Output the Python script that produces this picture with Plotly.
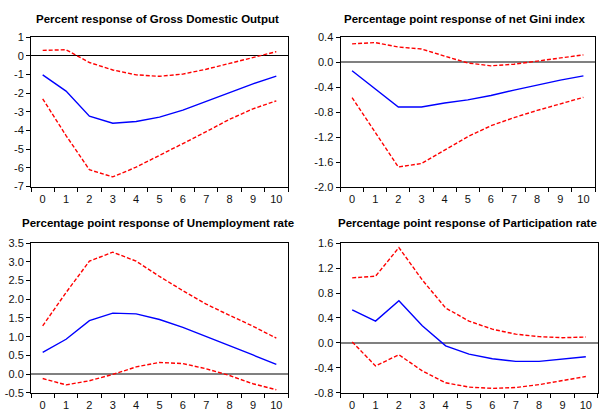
import plotly.graph_objects as go

horizons = [str(i) for i in range(11)]

gdo_resp = [-1.02, -1.89, -3.23, -3.61, -3.52, -3.28, -2.91, -2.44, -1.97, -1.50, -1.09]
gdo_upper = [0.29, 0.32, -0.36, -0.76, -1.02, -1.10, -0.98, -0.72, -0.41, -0.10, 0.22]
gdo_lower = [-2.30, -4.27, -6.10, -6.48, -5.96, -5.35, -4.70, -4.06, -3.40, -2.84, -2.41]

gini_resp = [-0.134, -0.43, -0.715, -0.715, -0.65, -0.60, -0.53, -0.445, -0.36, -0.285, -0.217]
gini_upper = [0.296, 0.317, 0.245, 0.214, 0.10, -0.01, -0.056, -0.03, 0.02, 0.074, 0.12]
gini_lower = [-0.565, -1.12, -1.675, -1.62, -1.40, -1.19, -1.015, -0.885, -0.77, -0.67, -0.56]

unemp_resp = [0.58, 0.93, 1.43, 1.63, 1.61, 1.46, 1.25, 1.01, 0.76, 0.51, 0.26]
unemp_upper = [1.29, 2.18, 3.02, 3.26, 3.02, 2.61, 2.23, 1.87, 1.57, 1.28, 0.96]
unemp_lower = [-0.12, -0.29, -0.18, -0.01, 0.19, 0.31, 0.28, 0.14, -0.04, -0.26, -0.42]

part_resp = [0.53, 0.35, 0.675, 0.275, -0.047, -0.18, -0.255, -0.296, -0.296, -0.265, -0.223]
part_upper = [1.044, 1.07, 1.53, 1.01, 0.56, 0.35, 0.22, 0.14, 0.10, 0.083, 0.094]
part_lower = [0.016, -0.37, -0.19, -0.45, -0.64, -0.71, -0.73, -0.717, -0.67, -0.61, -0.54]

titles = [
    "Percent response of Gross Domestic Output",
    "Percentage point response of net Gini index",
    "Percentage point response of Unemployment rate",
    "Percentage point response of Participation rate",
]

gdo_ticks = [1, 0, -1, -2, -3, -4, -5, -6, -7]
gdo_ticktext = ["1", "0", "-1", "-2", "-3", "-4", "-5", "-6", "-7"]
gini_ticks = [0.4, 0.0, -0.4, -0.8, -1.2, -1.6, -2.0]
gini_ticktext = ["0.4", "0.0", "-0.4", "-0.8", "-1.2", "-1.6", "-2.0"]
unemp_ticks = [3.5, 3.0, 2.5, 2.0, 1.5, 1.0, 0.5, 0.0, -0.5]
unemp_ticktext = ["3.5", "3.0", "2.5", "2.0", "1.5", "1.0", "0.5", "0.0", "-0.5"]
part_ticks = [1.6, 1.2, 0.8, 0.4, 0.0, -0.4, -0.8]
part_ticktext = ["1.6", "1.2", "0.8", "0.4", "0.0", "-0.4", "-0.8"]

W, H = 600, 413

panels = [
    dict(resp=gdo_resp, up=gdo_upper, lo=gdo_lower, ticks=gdo_ticks, text=gdo_ticktext,
         rng=[-7, 1], x=(31, 288), y=(32, 186), zc="black", zw=1, title_xy=(157, 13)),
    dict(resp=gini_resp, up=gini_upper, lo=gini_lower, ticks=gini_ticks, text=gini_ticktext,
         rng=[-2.0, 0.4], x=(340.5, 595), y=(32.3, 186.7), zc="#808080", zw=1.5, title_xy=(465, 13)),
    dict(resp=unemp_resp, up=unemp_upper, lo=unemp_lower, ticks=unemp_ticks, text=unemp_ticktext,
         rng=[-0.5, 3.5], x=(31, 288), y=(244.3, 398.3), zc="#808080", zw=1.5, title_xy=(158, 223)),
    dict(resp=part_resp, up=part_upper, lo=part_lower, ticks=part_ticks, text=part_ticktext,
         rng=[-0.8, 1.6], x=(340.5, 597.5), y=(244.3, 398.3), zc="#808080", zw=1.5, title_xy=(467.5, 223)),
]

fig = go.Figure()
layout = dict(
    width=W, height=H, margin=dict(l=0, r=0, t=0, b=0),
    paper_bgcolor="white", plot_bgcolor="white", showlegend=False,
    font=dict(family="Liberation Sans, Arial, sans-serif", size=11, color="black"),
    annotations=[],
)

for i, p in enumerate(panels):
    n = i + 1
    xa = "x" if n == 1 else f"x{n}"
    ya = "y" if n == 1 else f"y{n}"
    for vals, color, dash in [(p["up"], "#FF0000", "4px,2px"),
                              (p["lo"], "#FF0000", "4px,2px"),
                              (p["resp"], "#0000FF", "solid")]:
        fig.add_trace(go.Scatter(x=horizons, y=vals, mode="lines", xaxis=xa, yaxis=ya,
                                 line=dict(color=color, width=1.4, dash=dash),
                                 hoverinfo="skip"))
    x0, x1 = p["x"]
    yt, yb = p["y"]
    layout["xaxis" if n == 1 else f"xaxis{n}"] = dict(
        domain=[x0 / W, x1 / W], anchor=ya, type="category",
        range=[-0.5, 10.5], tickson="boundaries", ticks="outside", ticklen=4,
        tickcolor="black", showline=True, linecolor="black", linewidth=1, mirror=True,
        showgrid=False, zeroline=False, tickfont=dict(size=11, color="#111"), fixedrange=True,
        ticklabelstandoff=2,
    )
    layout["yaxis" if n == 1 else f"yaxis{n}"] = dict(
        domain=[1 - yb / H, 1 - yt / H], anchor=xa, range=p["rng"],
        tickmode="array", tickvals=p["ticks"], ticktext=p["text"],
        ticks="outside", ticklen=4, tickcolor="black",
        showline=True, linecolor="black", linewidth=1, mirror=True,
        showgrid=False, zeroline=True, zerolinecolor=p["zc"], zerolinewidth=p["zw"],
        tickfont=dict(size=11, color="#111"), fixedrange=True,
    )
    tx, ty = p["title_xy"]
    layout["annotations"].append(dict(
        text=f"<b>{titles[i]}</b>", x=tx / W, y=1 - ty / H, xref="paper", yref="paper",
        xanchor="center", yanchor="middle", showarrow=False,
        font=dict(size=11.5, color="black", family="Liberation Sans, Arial, sans-serif"),
    ))

fig.update_layout(**layout)
fig.write_html("out.html")
